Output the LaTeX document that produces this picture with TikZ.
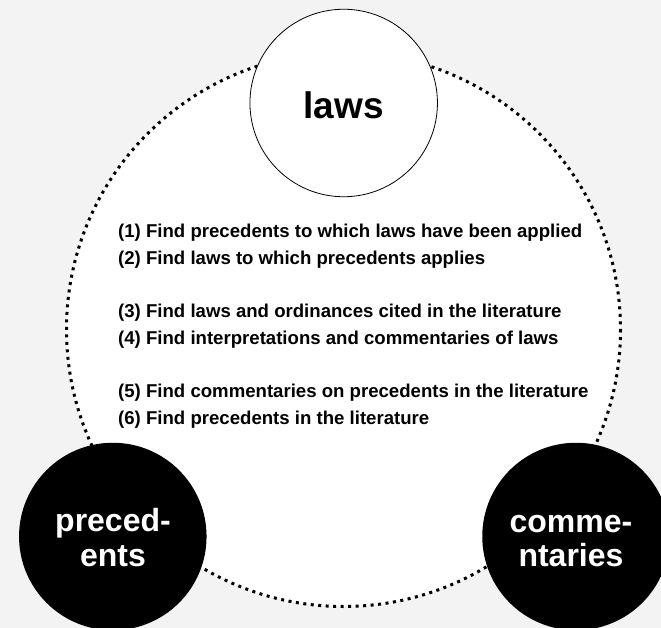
\documentclass[tikz,border=0pt]{standalone}
\usepackage{fontspec}
\setmainfont{Liberation Sans}
\begin{document}
\begin{tikzpicture}[x=1pt,y=-1pt,
  hub/.style={circle, inner sep=0pt, minimum size=187.5pt},
  ring/.style={line width=3pt, dash pattern=on 3pt off 4.5pt, fill=white},
  item/.style={anchor=base west, inner sep=0pt, font=\fontsize{18.6}{22}\selectfont\bfseries},
  biglabel/.style={anchor=base, inner sep=0pt, font=\fontsize{32}{35}\selectfont\bfseries, text=white}]
  \definecolor{pagebg}{HTML}{F3F3F3}
  \useasboundingbox (0,0) rectangle (661,628);
  \clip (0,0) rectangle (661,628);
  \fill[pagebg] (0,0) rectangle (661,628);

  % dotted outer ring
  \draw[ring] (343.5,329.5) circle[radius=277];

  % the three hubs
  \node[hub, draw=black, line width=0.8pt, fill=white] (laws) at (343.7,103) {};
  \node[hub, fill=black] (prec) at (112.8,536.5) {};
  \node[hub, fill=black] (comm) at (576,536.5) {};

  \node[anchor=base, inner sep=0pt, font=\fontsize{37}{40}\selectfont\bfseries] (lawsT) at (343.5,118.3) {laws};
  \node[biglabel] (precA) at (113,531.7) {preced-};
  \node[biglabel] (precB) at (113,566.7) {ents};
  \node[biglabel] (commA) at (571,532.5) {comme-};
  \node[biglabel] (commB) at (571,566.7) {ntaries};

  % list of search tasks
  \node[item] (t1) at (118,238)   {(1) Find precedents to which laws have been applied};
  \node[item] (t2) at (118,264.6) {(2) Find laws to which precedents applies};
  \node[item] (t3) at (118,317.8) {(3) Find laws and ordinances cited in the literature};
  \node[item] (t4) at (118,344.4) {(4) Find interpretations and commentaries of laws};
  \node[item] (t5) at (118,397.6) {(5) Find commentaries on precedents in the literature};
  \node[item] (t6) at (118,424.2) {(6) Find precedents in the literature};
\end{tikzpicture}
\end{document}
